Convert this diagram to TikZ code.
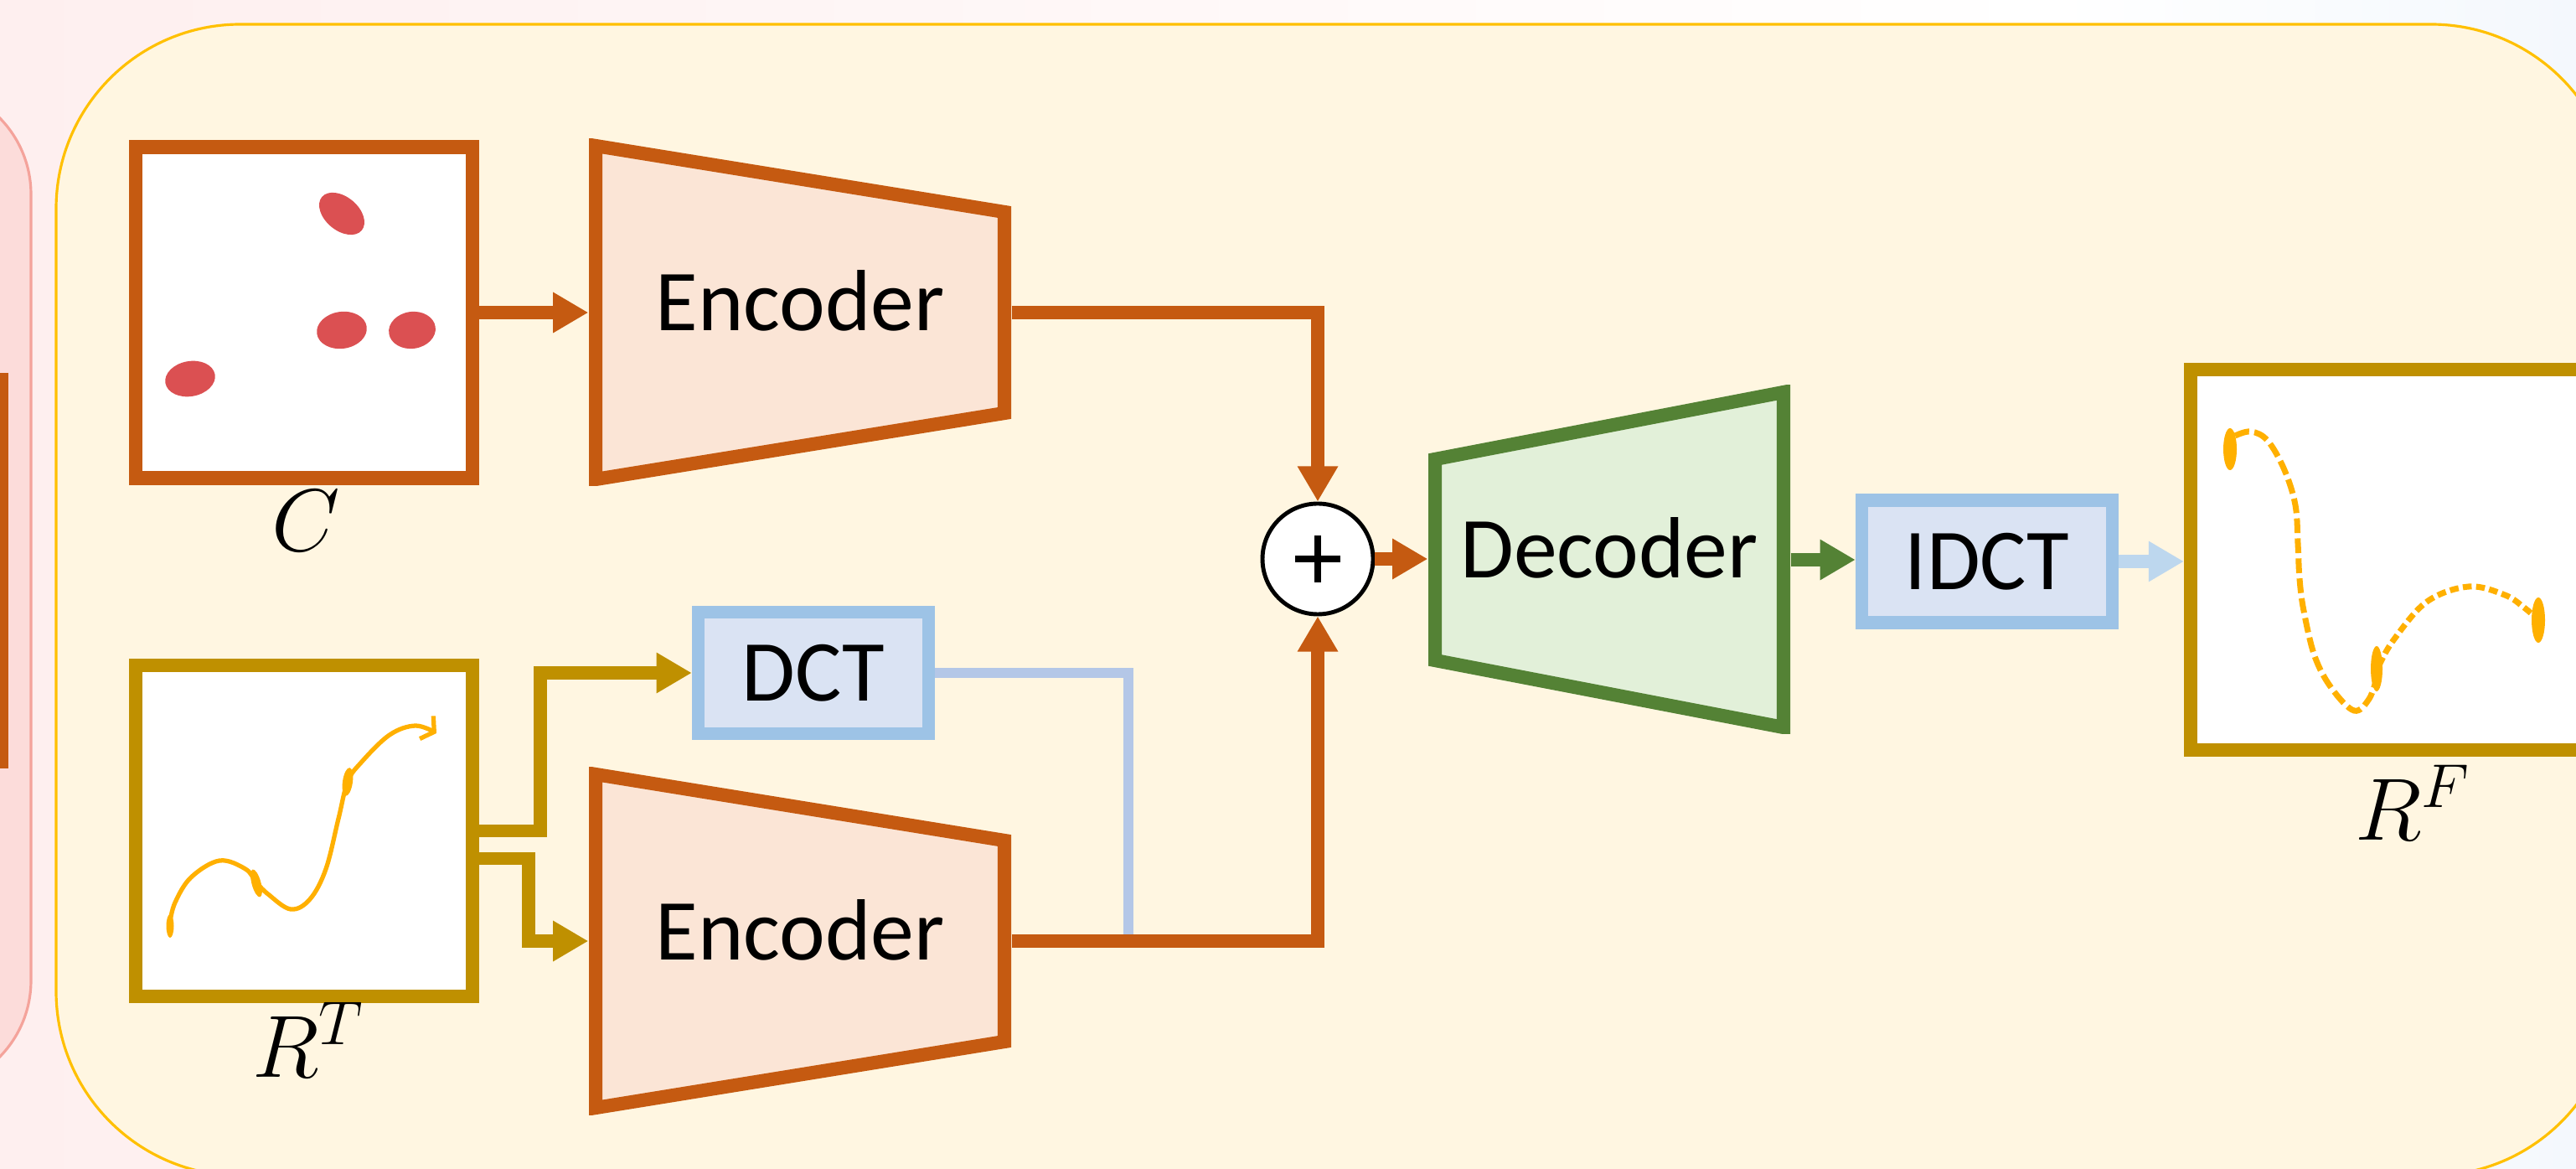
\RequirePackage{fix-cm}
\documentclass[tikz,border=0pt]{standalone}
\usepackage{fontspec}
\setmainfont{Carlito}
\usepackage{tikz}
\usetikzlibrary{arrows.meta}

\definecolor{orng}{HTML}{C55A11}
\definecolor{encfill}{HTML}{FBE5D6}
\definecolor{gold}{HTML}{BF9000}
\definecolor{decline}{HTML}{548235}
\definecolor{decfill}{HTML}{E2F0D9}
\definecolor{dctline}{HTML}{9DC3E6}
\definecolor{dctfill}{HTML}{DAE3F3}
\definecolor{freqline}{HTML}{B4C7E7}
\definecolor{outline}{HTML}{BDD7EE}
\definecolor{trajc}{HTML}{FFB000}
\definecolor{dotred}{HTML}{DB5052}
\definecolor{panelfill}{HTML}{FFF6E1}
\definecolor{panelline}{HTML}{FFC000}
\definecolor{pinkfill}{HTML}{FCDCDA}
\definecolor{pinkline}{HTML}{F4A39B}
\definecolor{bgpink}{HTML}{FEEFEF}
\definecolor{bgblue}{HTML}{F4F8FD}

\newcommand{\blockfont}{\fontsize{29.5}{35}\selectfont}
\newcommand{\symfont}{\fontsize{30}{36}\selectfont}

\tikzset{
  frame/.style={draw, fill=white, line width=4.6pt, inner sep=0pt,
    minimum width=4.02cm, minimum height=3.95cm},
  tbox/.style={draw=dctline, fill=dctfill, line width=4.4pt, inner sep=0pt,
    font=\blockfont},
  flow/.style={line width=4.4pt, -{Triangle[length=12pt,width=13pt]}},
  traj/.style={trajc, line width=1.5pt},
  encblock/.style={minimum width=5.04cm, minimum height=4.14cm, inner sep=0pt,
    text height=0.72cm, text depth=0.28cm, font=\blockfont, fill=panelfill,
    path picture={
      \draw[line width=4.6pt, draw=orng, fill=encfill]
        ([shift={(0.08,-0.08)}]path picture bounding box.north west)
        -- ([shift={(-0.08,-0.87)}]path picture bounding box.north east)
        -- ([shift={(-0.08,0.87)}]path picture bounding box.south east)
        -- ([shift={(0.08,0.08)}]path picture bounding box.south west) -- cycle;
    }},
  decblock/.style={minimum width=4.32cm, minimum height=4.16cm, inner sep=0pt,
    text height=0.72cm, text depth=0.28cm, font=\blockfont, fill=panelfill,
    path picture={
      \draw[line width=4.6pt, draw=decline, fill=decfill]
        ([shift={(0.08,-0.88)}]path picture bounding box.north west)
        -- ([shift={(-0.08,-0.08)}]path picture bounding box.north east)
        -- ([shift={(-0.08,0.08)}]path picture bounding box.south east)
        -- ([shift={(0.08,0.88)}]path picture bounding box.south west) -- cycle;
    }},
  sumnode/.style={circle, draw=black, fill=white, line width=1.4pt,
    minimum size=1.32cm, inner sep=0pt,
    path picture={
      \draw[line width=2.2pt]
        ([xshift=-0.27cm]path picture bounding box.center)
        -- ([xshift=0.27cm]path picture bounding box.center)
        ([yshift=-0.28cm]path picture bounding box.center)
        -- ([yshift=0.28cm]path picture bounding box.center);
    }},
}

\begin{document}
\begin{tikzpicture}
\useasboundingbox (0,0) rectangle (30.75,13.94);
\clip (0,0) rectangle (30.75,13.94);

%background and panels
\shade[left color=bgpink, right color=white] (0,0) rectangle (24.5,13.94);
\shade[left color=white, right color=bgblue] (24.5,0) rectangle (30.75,13.94);

\draw[pinkline, fill=pinkfill, line width=0.9pt, rounded corners=1.3cm] (-2,0.94) rectangle (0.37,12.92);
\fill[orng] (0,4.77) rectangle (0.10,9.49);

\draw[panelline, fill=panelfill, line width=0.9pt, rounded corners=2.2cm] (0.67,-0.09) rectangle (31.22,13.65);

%inputs
\node[frame, draw=orng] (cbox) at (3.63,10.21) {};
\node[frame, draw=gold] (rt) at (3.63,4.025) {};
\node[frame, draw=gold, minimum width=5.30cm, minimum height=4.54cm] (rf) at (28.80,7.26) {};

\node[anchor=base, font=\symfont] (clab) at (3.65,7.36) {$C$};
\node[anchor=base, font=\symfont] (rtlab) at (3.68,1.09) {$R^T$};
\node[anchor=base, font=\symfont] (rflab) at (28.80,3.92) {$R^F$};

%agents in the scene
\fill[dotred] (4.08,11.39) circle[x radius=0.31, y radius=0.20, rotate=-40];
\fill[dotred] (4.08,10.00) circle[x radius=0.30, y radius=0.22, rotate=8];
\fill[dotred] (4.92,10.00) circle[x radius=0.28, y radius=0.22, rotate=8];
\fill[dotred] (2.27,9.42) circle[x radius=0.30, y radius=0.21, rotate=10];

%past trajectory
\draw[traj, -{Straight Barb[length=3pt,width=9pt]}] plot[smooth, tension=0.6] coordinates {(2.03,2.94) (2.09,3.17) (2.28,3.47) (2.62,3.67) (2.93,3.57) (3.06,3.41) (3.20,3.27) (3.47,3.09) (3.70,3.21) (3.89,3.57) (4.04,4.17) (4.15,4.61) (4.31,4.84) (4.65,5.17) (4.96,5.28) (5.21,5.19)};
\fill[trajc] (2.03,2.89) circle[x radius=0.045, y radius=0.14];
\fill[trajc] (3.06,3.40) circle[x radius=0.055, y radius=0.17, rotate=15];
\fill[trajc] (4.15,4.61) circle[x radius=0.06, y radius=0.17, rotate=-8];

%predicted trajectory
\draw[traj, line width=2pt, dash pattern=on 5pt off 1.8pt] plot[smooth, tension=0.6] coordinates {(26.68,8.74) (26.87,8.79) (27.07,8.68) (27.27,8.33) (27.40,7.91) (27.43,7.45) (27.45,7.03) (27.50,6.65) (27.63,6.11) (27.83,5.73) (28.10,5.46) (28.28,5.60) (28.37,5.85)};
\draw[traj, line width=2pt, dash pattern=on 3pt off 1.5pt] plot[smooth, tension=0.6] coordinates {(28.40,6.00) (28.57,6.30) (28.97,6.76) (29.47,6.94) (29.90,6.84) (30.13,6.69) (30.28,6.56)};
\fill[trajc] (26.62,8.58) circle[x radius=0.08, y radius=0.25];
\fill[trajc] (28.37,5.96) circle[x radius=0.07, y radius=0.27];
\fill[trajc] (30.30,6.54) circle[x radius=0.08, y radius=0.27];

%network blocks
\node[encblock] (enc1) at (9.55,10.21) {Encoder};
\node[encblock] (enc2) at (9.55,2.71) {Encoder};
\node[decblock] (dec) at (19.21,7.26) {Decoder};
\node[tbox, minimum width=2.75cm, minimum height=1.45cm] (dct) at (9.71,5.91) {DCT};
\node[tbox, minimum width=2.99cm, minimum height=1.46cm] (idct) at (23.72,7.24) {IDCT};
\node[sumnode] (sum) at (15.73,7.27) {};

%connections
\coordinate (mix) at (13.47,0 |- enc2.east);
\draw[freqline, line width=3.4pt] (dct.east) -| (mix);

\draw[flow, orng] (cbox.east) -- (enc1.west);
\draw[flow, orng] (enc1.east) -| (sum.north);
\draw[flow, orng] (enc2.east) -| (sum.south);
\draw[flow, orng] (sum.east) -- (sum.east -| dec.west);

\draw[flow, gold] (rt.east) -- ++(0.73,0) |- (dct.west);
\draw[flow, gold] ([xshift=-0.15cm,yshift=-0.33cm]rt.east) -- ++(0.74,0) |- (enc2.west);

\draw[flow, decline] (dec.east) -- (dec.east -| idct.west);
\draw[flow, outline] (idct.east) -- (idct.east -| rf.west);

\end{tikzpicture}
\end{document}
